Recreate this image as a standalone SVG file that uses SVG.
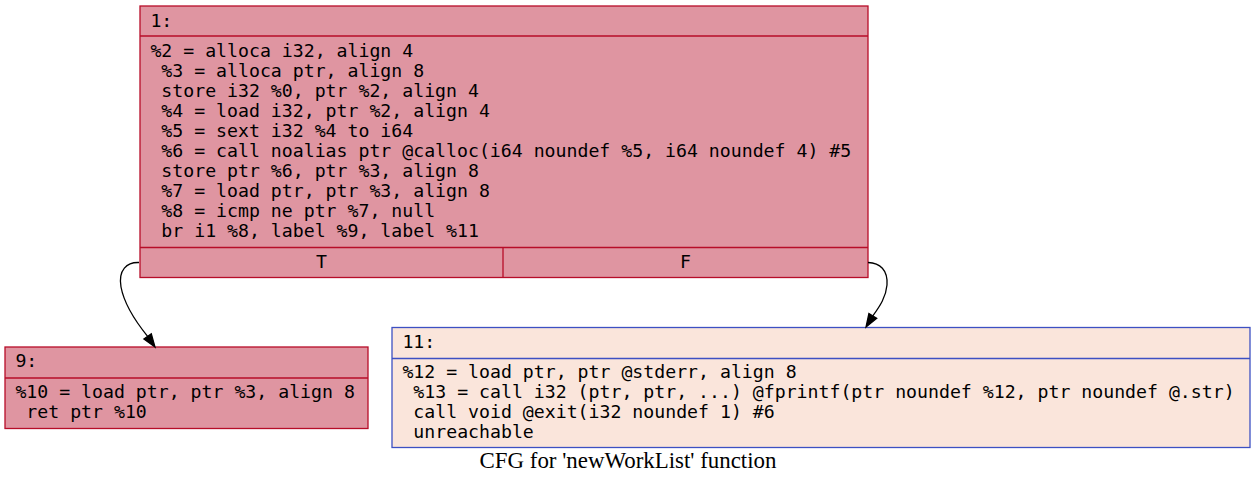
<svg xmlns="http://www.w3.org/2000/svg" width="1256" height="485" viewBox="0 0 1256 485">
<style>
.red rect{fill:#df95a1;stroke:#b70d28;stroke-width:1.3}
.red line{stroke:#b70d28;stroke-width:1.3}
.blue rect{fill:#fae5db;stroke:#3d50c3;stroke-width:1.3}
.blue line{stroke:#3d50c3;stroke-width:1.3}
text{font-family:"DejaVu Sans Mono",monospace;font-size:18.2px;fill:#000}
.mid{text-anchor:middle}
.cap{font-family:"Liberation Serif",serif;font-size:22.9px;text-anchor:middle}
.edge{fill:none;stroke:#000;stroke-width:1.3}
.head{fill:#000;stroke:#000;stroke-width:1.3}
</style>
<rect width="1256" height="485" fill="#fff"/>
<g id="node1" class="red">
<rect x="140" y="6" width="728" height="271.5"/>
<line x1="140" y1="36" x2="868" y2="36"/>
<line x1="140" y1="247.5" x2="868" y2="247.5"/>
<line x1="503" y1="247.5" x2="503" y2="277.5"/>
<text x="150.4" y="26.5">1:</text>
<text x="150.4" y="57" xml:space="preserve">%2 = alloca i32, align 4</text>
<text x="150.4" y="77" xml:space="preserve"> %3 = alloca ptr, align 8</text>
<text x="150.4" y="97" xml:space="preserve"> store i32 %0, ptr %2, align 4</text>
<text x="150.4" y="117" xml:space="preserve"> %4 = load i32, ptr %2, align 4</text>
<text x="150.4" y="137" xml:space="preserve"> %5 = sext i32 %4 to i64</text>
<text x="150.4" y="157" xml:space="preserve"> %6 = call noalias ptr @calloc(i64 noundef %5, i64 noundef 4) #5</text>
<text x="150.4" y="177" xml:space="preserve"> store ptr %6, ptr %3, align 8</text>
<text x="150.4" y="197" xml:space="preserve"> %7 = load ptr, ptr %3, align 8</text>
<text x="150.4" y="217" xml:space="preserve"> %8 = icmp ne ptr %7, null</text>
<text x="150.4" y="237" xml:space="preserve"> br i1 %8, label %9, label %11</text>
<text class="mid" x="321.5" y="268">T</text>
<text class="mid" x="685.5" y="268">F</text>
</g>
<g id="node9" class="red">
<rect x="5" y="347" width="363" height="81.5"/>
<line x1="5" y1="378" x2="368" y2="378"/>
<text x="15.4" y="367">9:</text>
<text x="15.4" y="398" xml:space="preserve">%10 = load ptr, ptr %3, align 8</text>
<text x="15.4" y="418" xml:space="preserve"> ret ptr %10</text>
</g>
<g id="node11" class="blue">
<rect x="392" y="327.5" width="858" height="120"/>
<line x1="392" y1="358.5" x2="1250" y2="358.5"/>
<text x="402.4" y="347.5">11:</text>
<text x="402.4" y="378" xml:space="preserve">%12 = load ptr, ptr @stderr, align 8</text>
<text x="402.4" y="398" xml:space="preserve"> %13 = call i32 (ptr, ptr, ...) @fprintf(ptr noundef %12, ptr noundef @.str)</text>
<text x="402.4" y="418" xml:space="preserve"> call void @exit(i32 noundef 1) #6</text>
<text x="402.4" y="438" xml:space="preserve"> unreachable</text>
</g>
<g id="connectors">
<path class="edge" d="M139,262.5 C127,262 118,270 121,287 C124,303 136,322 147.6,336.3"/>
<polygon class="head" points="155,347 143.9,338.9 151.3,333.7"/>
<path class="edge" d="M868,262.5 C880,263 888,270 887,285 C886,297 880,306 872.8,315.9"/>
<polygon class="head" points="866,327 876.7,318.3 868.9,313.5"/>
</g>
<text class="cap" x="628" y="468">CFG for 'newWorkList' function</text>
</svg>
